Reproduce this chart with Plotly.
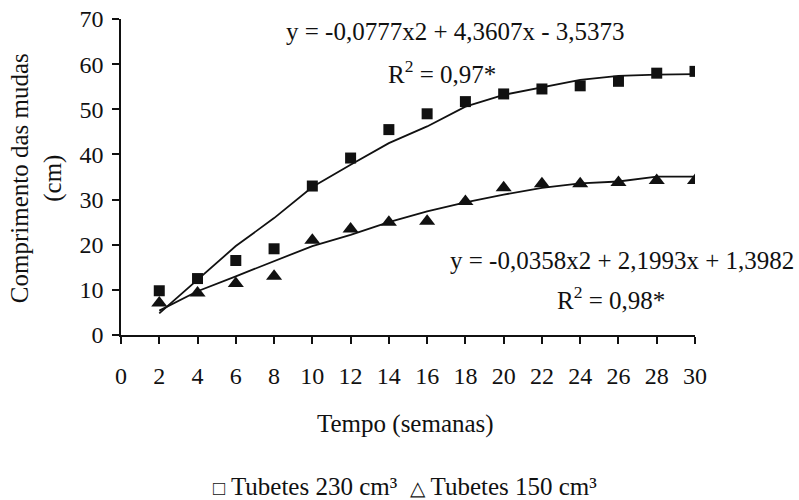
import plotly.graph_objects as go

weeks = [2, 4, 6, 8, 10, 12, 14, 16, 18, 20, 22, 24, 26, 28, 30]
t230 = [9.8, 12.5, 16.5, 19.1, 33.0, 39.2, 45.5, 49.0, 51.7, 53.4, 54.5, 55.2, 56.2, 58.0, 58.4]
t150 = [7.1, 9.3, 11.4, 13.0, 21.0, 23.5, 25.0, 25.2, 29.6, 32.6, 33.5, 33.5, 33.8, 34.2, 34.2]
fit230 = [4.8, 12.3, 19.7, 25.9, 32.8, 37.7, 42.5, 46.2, 50.6, 53.2, 54.9, 56.5, 57.4, 57.7, 57.8]
fit150 = [5.4, 9.7, 13.0, 16.3, 19.7, 22.2, 25.0, 27.4, 29.4, 31.1, 32.6, 33.6, 34.0, 35.1, 35.1]
x_ticks = list(range(0, 31, 2))
y_ticks = list(range(0, 71, 10))

FONT = "Liberation Serif"
INK = "#111111"

fig = go.Figure()
fig.add_trace(go.Scatter(x=weeks, y=fit230, mode="lines", line=dict(color=INK, width=1.8), showlegend=False))
fig.add_trace(go.Scatter(x=weeks, y=fit150, mode="lines", line=dict(color=INK, width=1.8), showlegend=False))
fig.add_trace(go.Scatter(x=weeks, y=t230, mode="markers", marker=dict(symbol="square", size=11, color=INK), showlegend=False))
fig.add_trace(go.Scatter(x=weeks, y=t150, mode="markers", marker=dict(symbol="triangle-up", size=14, color=INK), showlegend=False))

axis_common = dict(showline=True, linecolor=INK, linewidth=1.5, ticks="outside", ticklen=7,
                   tickwidth=1.5, tickcolor=INK, showgrid=False, zeroline=False, automargin=False,
                   tickfont=dict(family=FONT, size=24, color=INK))
fig.update_xaxes(range=[0, 30], tickvals=x_ticks, ticklabelstandoff=11, **axis_common)
fig.update_yaxes(range=[0, 70], tickvals=y_ticks, ticklabelstandoff=4, **axis_common)

def ann(text, x, y, size=25, angle=0):
    return dict(text=text, x=x, y=y, xref="paper", yref="paper", showarrow=False,
                xanchor="center", yanchor="middle", textangle=angle,
                font=dict(family=FONT, size=size, color=INK))

legend_text = ('<span style="font-size:20px">□</span> Tubetes 230 cm³  '
               '<span style="font-size:20px">△</span> Tubetes 150 cm³')

fig.update_layout(
    width=799, height=500,
    margin=dict(l=121, r=104, t=19, b=165),
    plot_bgcolor="white", paper_bgcolor="white",
    annotations=[
        ann("y = -0,0777x2 + 4,3607x - 3,5373", 0.582, 0.959),
        ann("R<sup>2</sup> = 0,97*", 0.559, 0.832),
        ann("y = -0,0358x2 + 2,1993x + 1,3982", 0.873, 0.237),
        ann("R<sup>2</sup> = 0,98*", 0.854, 0.117),
        ann("Tempo (semanas)", 0.495, -0.282),
        ann("Comprimento das mudas<br>(cm)", -0.146, 0.497, angle=-90),
        ann(legend_text, 0.495, -0.481),
    ],
)

fig.write_html("out.html", config={"displayModeBar": False},
               post_script="document.body.style.margin='0';")
